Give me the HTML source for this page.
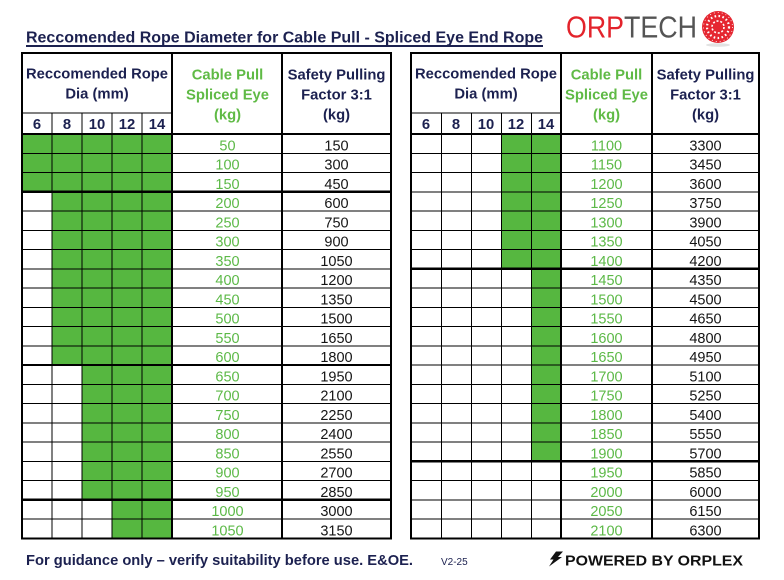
<!DOCTYPE html>
<html><head><meta charset="utf-8"><style>
html,body{margin:0;padding:0;background:#fff;}
svg{display:block;}
text{font-family:"Liberation Sans",Arial,sans-serif;}
.h{font-weight:bold;font-size:14.8px;fill:#1c2150;text-anchor:middle;}
.hg{font-weight:bold;font-size:14.8px;fill:#5fba45;text-anchor:middle;}
.g{font-size:14.5px;fill:#5cb947;text-anchor:middle;}
.k{font-size:14.5px;fill:#151515;text-anchor:middle;}
</style></head><body>
<svg width="784" height="580" viewBox="0 0 784 580" xmlns="http://www.w3.org/2000/svg">
<rect width="784" height="580" fill="#fff"/>
<!-- Title -->
<text x="26" y="42.5" font-size="16" font-weight="bold" fill="#1c2150" textLength="517" lengthAdjust="spacingAndGlyphs">Reccomended Rope Diameter for Cable Pull - Spliced Eye End Rope</text>
<rect x="26" y="45" width="517" height="2" fill="#1c2150"/>
<!-- Logo -->
<text x="566" y="37.3" font-size="31" fill="#e3232b" textLength="58" lengthAdjust="spacingAndGlyphs">ORP</text>
<text x="624" y="37.3" font-size="31" fill="#545454" textLength="73" lengthAdjust="spacingAndGlyphs">TECH</text>
<ellipse cx="718" cy="45" rx="12" ry="1.8" fill="#e2e2e2"/>
<circle cx="718" cy="27" r="16" fill="#e52630"/>
<circle cx="718" cy="27" r="11" fill="none" stroke="#fff" stroke-width="2.2" stroke-dasharray="1.6 2.4"/>
<circle cx="718" cy="27" r="6" fill="none" stroke="#fff" stroke-width="1.6" stroke-dasharray="2 1.8"/>
<circle cx="718" cy="27" r="14.5" fill="none" stroke="#fff" stroke-width="0.8" stroke-dasharray="1 3"/>

<g shape-rendering="crispEdges">
<!-- green fills left -->
<rect x="22" y="134" width="150" height="57.75" fill="#56b740"/>
<rect x="52" y="191.75" width="120" height="173.25" fill="#56b740"/>
<rect x="82" y="365" width="90" height="134.75" fill="#56b740"/>
<rect x="112" y="499.75" width="60" height="38.5" fill="#56b740"/>
<!-- green fills right -->
<rect x="501.5" y="134" width="59.5" height="134.75" fill="#56b740"/>
<rect x="531.5" y="268.75" width="29.5" height="192.5" fill="#56b740"/>

<g stroke="#000" stroke-width="1">
<line x1="22" x2="391" y1="153.25" y2="153.25"/>
<line x1="22" x2="391" y1="172.5" y2="172.5"/>
<line x1="22" x2="391" y1="211" y2="211"/>
<line x1="22" x2="391" y1="230.25" y2="230.25"/>
<line x1="22" x2="391" y1="249.5" y2="249.5"/>
<line x1="22" x2="391" y1="268.75" y2="268.75"/>
<line x1="22" x2="391" y1="288" y2="288"/>
<line x1="22" x2="391" y1="307.25" y2="307.25"/>
<line x1="22" x2="391" y1="326.5" y2="326.5"/>
<line x1="22" x2="391" y1="345.75" y2="345.75"/>
<line x1="22" x2="391" y1="384.25" y2="384.25"/>
<line x1="22" x2="391" y1="403.5" y2="403.5"/>
<line x1="22" x2="391" y1="422.75" y2="422.75"/>
<line x1="22" x2="391" y1="442" y2="442"/>
<line x1="22" x2="391" y1="461.25" y2="461.25"/>
<line x1="22" x2="391" y1="480.5" y2="480.5"/>
<line x1="22" x2="391" y1="519" y2="519"/>
<line x1="22" x2="172" y1="113" y2="113"/>
<line x1="52" x2="52" y1="113" y2="538"/>
<line x1="82" x2="82" y1="113" y2="538"/>
<line x1="112" x2="112" y1="113" y2="538"/>
<line x1="142" x2="142" y1="113" y2="538"/>
<line x1="411" x2="759" y1="153.25" y2="153.25"/>
<line x1="411" x2="759" y1="172.5" y2="172.5"/>
<line x1="411" x2="759" y1="191.75" y2="191.75"/>
<line x1="411" x2="759" y1="211" y2="211"/>
<line x1="411" x2="759" y1="230.25" y2="230.25"/>
<line x1="411" x2="759" y1="249.5" y2="249.5"/>
<line x1="411" x2="759" y1="288" y2="288"/>
<line x1="411" x2="759" y1="307.25" y2="307.25"/>
<line x1="411" x2="759" y1="326.5" y2="326.5"/>
<line x1="411" x2="759" y1="345.75" y2="345.75"/>
<line x1="411" x2="759" y1="365" y2="365"/>
<line x1="411" x2="759" y1="384.25" y2="384.25"/>
<line x1="411" x2="759" y1="403.5" y2="403.5"/>
<line x1="411" x2="759" y1="422.75" y2="422.75"/>
<line x1="411" x2="759" y1="442" y2="442"/>
<line x1="411" x2="759" y1="480.5" y2="480.5"/>
<line x1="411" x2="759" y1="499.75" y2="499.75"/>
<line x1="411" x2="759" y1="519" y2="519"/>
<line x1="411" x2="561" y1="113" y2="113"/>
<line x1="441.5" x2="441.5" y1="113" y2="538"/>
<line x1="471.5" x2="471.5" y1="113" y2="538"/>
<line x1="501.5" x2="501.5" y1="113" y2="538"/>
<line x1="531.5" x2="531.5" y1="113" y2="538"/>
</g>
<g stroke="#000" stroke-width="2.2" fill="none">
<rect x="22" y="53" width="369" height="485.5"/>
<line x1="172" x2="172" y1="53" y2="538.5"/>
<line x1="282" x2="282" y1="53" y2="538.5"/>
<line x1="22" x2="391" y1="134" y2="134"/>
<line x1="22" x2="391" y1="191.75" y2="191.75"/>
<line x1="22" x2="391" y1="365" y2="365"/>
<line x1="22" x2="391" y1="499.75" y2="499.75"/>
<rect x="411" y="53" width="348" height="485.5"/>
<line x1="561" x2="561" y1="53" y2="538.5"/>
<line x1="652" x2="652" y1="53" y2="538.5"/>
<line x1="411" x2="759" y1="134" y2="134"/>
<line x1="411" x2="759" y1="268.75" y2="268.75"/>
<line x1="411" x2="759" y1="461.25" y2="461.25"/>
</g>
</g>

<!-- Left headers -->
<text class="h" x="97" y="78.3" textLength="142" lengthAdjust="spacingAndGlyphs">Reccomended Rope</text>
<text class="h" x="97" y="98.3">Dia (mm)</text>
<text class="h" x="37" y="129">6</text>
<text class="h" x="67" y="129">8</text>
<text class="h" x="97" y="129">10</text>
<text class="h" x="127" y="129">12</text>
<text class="h" x="157" y="129">14</text>
<text class="hg" x="227.5" y="79.3">Cable Pull</text>
<text class="hg" x="227.5" y="99.3">Spliced Eye</text>
<text class="hg" x="227.5" y="119.3">(kg)</text>
<text class="h" x="336.5" y="79.3">Safety Pulling</text>
<text class="h" x="336.5" y="99.3">Factor 3:1</text>
<text class="h" x="336.5" y="119.3">(kg)</text>
<!-- Right headers -->
<text class="h" x="486" y="78.3" textLength="142" lengthAdjust="spacingAndGlyphs">Reccomended Rope</text>
<text class="h" x="486" y="98.3">Dia (mm)</text>
<text class="h" x="426" y="129">6</text>
<text class="h" x="456" y="129">8</text>
<text class="h" x="486" y="129">10</text>
<text class="h" x="516" y="129">12</text>
<text class="h" x="546" y="129">14</text>
<text class="hg" x="606.5" y="79.3">Cable Pull</text>
<text class="hg" x="606.5" y="99.3">Spliced Eye</text>
<text class="hg" x="606.5" y="119.3">(kg)</text>
<text class="h" x="705.5" y="79.3">Safety Pulling</text>
<text class="h" x="705.5" y="99.3">Factor 3:1</text>
<text class="h" x="705.5" y="119.3">(kg)</text>

<!-- Left data -->
<g>
<text class="g" x="227.5" y="150.3">50</text>
<text class="g" x="227.5" y="169.55">100</text>
<text class="g" x="227.5" y="188.8">150</text>
<text class="g" x="227.5" y="208.05">200</text>
<text class="g" x="227.5" y="227.3">250</text>
<text class="g" x="227.5" y="246.55">300</text>
<text class="g" x="227.5" y="265.8">350</text>
<text class="g" x="227.5" y="285.05">400</text>
<text class="g" x="227.5" y="304.3">450</text>
<text class="g" x="227.5" y="323.55">500</text>
<text class="g" x="227.5" y="342.8">550</text>
<text class="g" x="227.5" y="362.05">600</text>
<text class="g" x="227.5" y="381.3">650</text>
<text class="g" x="227.5" y="400.55">700</text>
<text class="g" x="227.5" y="419.8">750</text>
<text class="g" x="227.5" y="439.05">800</text>
<text class="g" x="227.5" y="458.3">850</text>
<text class="g" x="227.5" y="477.55">900</text>
<text class="g" x="227.5" y="496.8">950</text>
<text class="g" x="227.5" y="516.05">1000</text>
<text class="g" x="227.5" y="535.3">1050</text>
</g>
<g>
<text class="k" x="336.5" y="150.3">150</text>
<text class="k" x="336.5" y="169.55">300</text>
<text class="k" x="336.5" y="188.8">450</text>
<text class="k" x="336.5" y="208.05">600</text>
<text class="k" x="336.5" y="227.3">750</text>
<text class="k" x="336.5" y="246.55">900</text>
<text class="k" x="336.5" y="265.8">1050</text>
<text class="k" x="336.5" y="285.05">1200</text>
<text class="k" x="336.5" y="304.3">1350</text>
<text class="k" x="336.5" y="323.55">1500</text>
<text class="k" x="336.5" y="342.8">1650</text>
<text class="k" x="336.5" y="362.05">1800</text>
<text class="k" x="336.5" y="381.3">1950</text>
<text class="k" x="336.5" y="400.55">2100</text>
<text class="k" x="336.5" y="419.8">2250</text>
<text class="k" x="336.5" y="439.05">2400</text>
<text class="k" x="336.5" y="458.3">2550</text>
<text class="k" x="336.5" y="477.55">2700</text>
<text class="k" x="336.5" y="496.8">2850</text>
<text class="k" x="336.5" y="516.05">3000</text>
<text class="k" x="336.5" y="535.3">3150</text>
</g>
<!-- Right data -->
<g>
<text class="g" x="606.5" y="150.3">1100</text>
<text class="g" x="606.5" y="169.55">1150</text>
<text class="g" x="606.5" y="188.8">1200</text>
<text class="g" x="606.5" y="208.05">1250</text>
<text class="g" x="606.5" y="227.3">1300</text>
<text class="g" x="606.5" y="246.55">1350</text>
<text class="g" x="606.5" y="265.8">1400</text>
<text class="g" x="606.5" y="285.05">1450</text>
<text class="g" x="606.5" y="304.3">1500</text>
<text class="g" x="606.5" y="323.55">1550</text>
<text class="g" x="606.5" y="342.8">1600</text>
<text class="g" x="606.5" y="362.05">1650</text>
<text class="g" x="606.5" y="381.3">1700</text>
<text class="g" x="606.5" y="400.55">1750</text>
<text class="g" x="606.5" y="419.8">1800</text>
<text class="g" x="606.5" y="439.05">1850</text>
<text class="g" x="606.5" y="458.3">1900</text>
<text class="g" x="606.5" y="477.55">1950</text>
<text class="g" x="606.5" y="496.8">2000</text>
<text class="g" x="606.5" y="516.05">2050</text>
<text class="g" x="606.5" y="535.3">2100</text>
</g>
<g>
<text class="k" x="705.5" y="150.3">3300</text>
<text class="k" x="705.5" y="169.55">3450</text>
<text class="k" x="705.5" y="188.8">3600</text>
<text class="k" x="705.5" y="208.05">3750</text>
<text class="k" x="705.5" y="227.3">3900</text>
<text class="k" x="705.5" y="246.55">4050</text>
<text class="k" x="705.5" y="265.8">4200</text>
<text class="k" x="705.5" y="285.05">4350</text>
<text class="k" x="705.5" y="304.3">4500</text>
<text class="k" x="705.5" y="323.55">4650</text>
<text class="k" x="705.5" y="342.8">4800</text>
<text class="k" x="705.5" y="362.05">4950</text>
<text class="k" x="705.5" y="381.3">5100</text>
<text class="k" x="705.5" y="400.55">5250</text>
<text class="k" x="705.5" y="419.8">5400</text>
<text class="k" x="705.5" y="439.05">5550</text>
<text class="k" x="705.5" y="458.3">5700</text>
<text class="k" x="705.5" y="477.55">5850</text>
<text class="k" x="705.5" y="496.8">6000</text>
<text class="k" x="705.5" y="516.05">6150</text>
<text class="k" x="705.5" y="535.3">6300</text>
</g>

<!-- Footer -->
<text x="26" y="565" font-size="14.8" font-weight="bold" fill="#1c2150" textLength="387" lengthAdjust="spacingAndGlyphs">For guidance only – verify suitability before use. E&amp;OE.</text>
<text x="441" y="565" font-size="10" fill="#1c2150">V2-25</text>
<polygon points="556,551.5 563,551.5 558,557 562,557 549,566.5 553.5,559.5 550,559.5" fill="#111"/>
<text x="565" y="565.7" font-size="15" font-weight="bold" fill="#111" textLength="178" lengthAdjust="spacingAndGlyphs">POWERED BY ORPLEX</text>
</svg>
</body></html>
